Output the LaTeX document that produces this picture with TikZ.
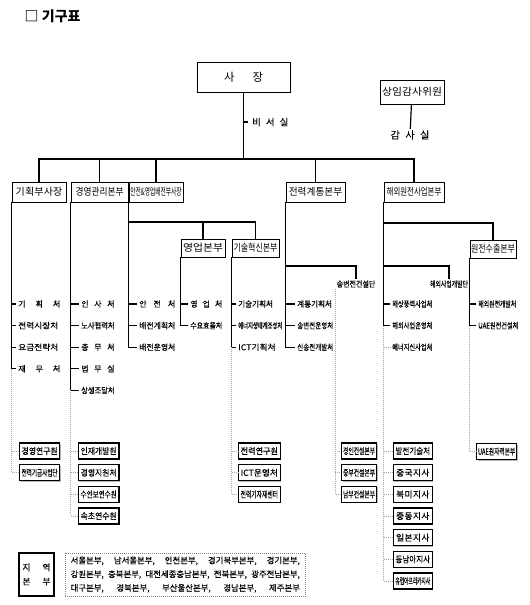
\documentclass[tikz,border=0pt]{standalone}
\usepackage{fontspec}
\setmainfont{Noto Sans CJK KR}
\newfontfamily\itemfont{Noto Sans CJK KR}[FakeBold=0.3]
\usepackage{graphicx}
\usetikzlibrary{positioning, shadows, calc}
\newcommand{\fitto}[2]{\resizebox{#1}{\height}{#2}}
\newcommand{\spr}[2]{\makebox[#1][s]{#2}}

\begin{document}
\begin{tikzpicture}[x=0.75pt, y=-0.75pt,
    line/.style={line width=0.9pt},
    dots/.style={gray!70, densely dotted, line width=0.5pt},
    boxshadow/.style={drop shadow={shadow xshift=0.8pt, shadow yshift=-0.8pt, fill=gray!55, opacity=1}},
    topbox/.style={draw, line width=0.6pt, fill=white, boxshadow, inner sep=0pt, minimum height=15pt, minimum width=#1, font=\fontsize{7.5}{8}\selectfont},
    unitbox/.style={draw, line width=0.9pt, fill=white, boxshadow, inner sep=0pt, minimum height=12pt, minimum width=#1, anchor=west, font=\itemfont\fontsize{6.5}{7}\selectfont},
    item/.style={anchor=west, inner xsep=1.5pt, inner ysep=1pt, font=\itemfont\fontsize{6}{7}\selectfont}]
    \useasboundingbox (0,0) rectangle (529,605);
    % 제목
    \node[anchor=west, font=\fontsize{10.5}{12}\selectfont\bfseries] (title) at (20,16) {□ 기구표};
    % 사장, 상임감사위원
    \node[draw, line width=0.6pt, minimum width=69.75pt, minimum height=22.5pt, font=\fontsize{8.5}{10}\selectfont] (ceo) at (243.5,77) {사\hspace{1.6em}장};
    \node[topbox=48pt, minimum height=18pt] (board) at (412,92) {\fitto{45pt}{상임감사위원}};
    \node[font=\itemfont\fontsize{7.5}{8}\selectfont, inner sep=1pt] (audit) at (410,135) {\spr{29pt}{감\hfil 사\hfil 실}};
    \draw[line] (board) -- (audit);
    \node[item, font=\itemfont\fontsize{7}{8}\selectfont, inner xsep=3pt] (sec) at (248,122) {\spr{27pt}{비\hfil 서\hfil 실}};
    \draw[line] (ceo.south |- sec.west) -- (sec.west);
    % 부사장, 본부
    \node[topbox=40.5pt] (vp1) at (39,192) {\spr{35pt}{기\hfil 획\hfil 부\hfil 사\hfil 장}};
    \node[topbox=42.75pt] (hq1) at (99.5,192) {\fitto{36pt}{경영관리본부}};
    \node[topbox=40.5pt] (vp2) at (156,192) {\fitto{38.5pt}{안전\&영업배전부사장}};
    \node[topbox=44.25pt] (hq5) at (315.5,192) {\fitto{40pt}{전력계통본부}};
    \node[topbox=45pt] (hq6) at (414,192) {\fitto{41pt}{해외원전사업본부}};
    \coordinate (bus) at (0,159);
    \draw[line] (ceo.south) -- (ceo.south |- bus);
    \draw[line] (vp1.north) |- (hq6.north |- bus) -- (hq6.north);
    \foreach \n in {hq1, vp2, hq5}
      \draw[line] (\n.north) -- (\n.north |- bus);
    \node[topbox=33pt, minimum height=13.5pt] (hq2) at (203,248) {\fitto{30pt}{영업본부}};
    \node[topbox=35.25pt, minimum height=13.5pt] (hq3) at (255.5,248) {\fitto{33pt}{기술혁신본부}};
    \node[topbox=34.5pt, minimum height=13.5pt] (hq7) at (493,249) {\fitto{33pt}{원전수출본부}};
    \coordinate (sub2) at (0,222);
    \coordinate (sub6) at (0,223);
    \coordinate (sub5) at (0,266);
    \draw[line] (vp2.south west |- sub2) -| (hq3.north);
    \draw[line] (hq2.north) -- (hq2.north |- sub2);
    \draw[line] (hq6.south west |- sub6) -| (hq7.north);
    \node[font=\itemfont\fontsize{6}{7}\selectfont, inner sep=1pt] (cons) at (356,284) {\fitto{29pt}{송변전건설단}};
    \node[font=\itemfont\fontsize{6}{7}\selectfont, inner sep=1pt] (devt) at (449,284) {\fitto{28.5pt}{해외사업개발단}};
    \draw[line] (hq5.south west |- sub5) -| (cons.north);
    \draw[line] (hq6.south west |- sub5) -| (devt.north);
    % 기획부사장
    \foreach \t [count=\i] in {{\spr{31.5pt}{기\hfil 획\hfil 처}}, {\fitto{30pt}{전력시장처}}, {\fitto{30pt}{요금전략처}}, {\spr{31.5pt}{재\hfil 무\hfil 처}}}
      \node[item] (a\i) at (16,282.4+21.6*\i) {\t};
    \foreach \i in {1,2,3}
      \draw[line] (vp1.south west |- a\i.west) -- (a\i.west);
    \draw[line] (vp1.south west) |- (a4.west);
    \foreach \t [count=\i] in {경영연구원, 전력기금사업단}
      \node[unitbox=30pt] (ab\i) at (19,429.4+21.65*\i) {\fitto{27pt}{\t}};
    \draw[dots] (vp1.south west |- a4.west) |- (ab2.west);
    \draw[dots] (vp1.south west |- ab1.west) -- (ab1.west);
    % 경영관리본부
    \foreach \t [count=\i] in {{\spr{25pt}{인\hfil 사\hfil 처}}, {\fitto{25pt}{노사협력처}}, {\spr{25pt}{총\hfil 무\hfil 처}}, {\spr{25pt}{법\hfil 무\hfil 실}}, {\fitto{25pt}{상생조달처}}}
      \node[item] (b\i) at (79,282.4+21.6*\i) {\t};
    \foreach \i in {1,...,4}
      \draw[line] (hq1.south west |- b\i.west) -- (b\i.west);
    \draw[line] (hq1.south west) |- (b5.west);
    \foreach \t [count=\i] in {인재개발원, 경영지원처, 수안보연수원, 속초연수원}
      \node[unitbox=30.5pt] (bb\i) at (77.7,429.4+21.65*\i) {\fitto{27pt}{\t}};
    \draw[dots] (hq1.south west |- b5.west) |- (bb4.west);
    \foreach \i in {1,2,3}
      \draw[dots] (hq1.south west |- bb\i.west) -- (bb\i.west);
    % 안전&영업배전부사장
    \foreach \t [count=\i] in {{\spr{27pt}{안\hfil 전\hfil 처}}, {\fitto{27pt}{배전계획처}}, {\fitto{27pt}{배전운영처}}}
      \node[item] (c\i) at (137,282.4+21.6*\i) {\t};
    \foreach \i in {1,2}
      \draw[line] (vp2.south west |- c\i.west) -- (c\i.west);
    \draw[line] (vp2.south west) |- (c3.west);
    % 영업본부
    \foreach \t [count=\i] in {{\spr{24pt}{영\hfil 업\hfil 처}}, {\fitto{24pt}{수요효율처}}}
      \node[item] (d\i) at (188,282.4+21.6*\i) {\t};
    \draw[line] (hq2.south west |- d1.west) -- (d1.west);
    \draw[line] (hq2.south west) |- (d2.west);
    % 기술혁신본부
    \foreach \t [count=\i] in {{\fitto{26pt}{기술기획처}}, {\fitto{33pt}{에너지생태계조성처}}, {\fitto{28pt}{ICT기획처}}}
      \node[item] (e\i) at (236,282.4+21.6*\i) {\t};
    \foreach \i in {1,2}
      \draw[line] (hq3.south west |- e\i.west) -- (e\i.west);
    \draw[line] (hq3.south west) |- (e3.west);
    \foreach \t [count=\i] in {전력연구원, ICT운영처, 전력기자재센터}
      \node[unitbox=31.5pt] (eb\i) at (237.7,429.4+21.65*\i) {\fitto{28pt}{\t}};
    \draw[dots] (hq3.south west |- e3.west) |- (eb3.west);
    \foreach \i in {1,2}
      \draw[dots] (hq3.south west |- eb\i.west) -- (eb\i.west);
    % 전력계통본부
    \foreach \t [count=\i] in {{\fitto{26pt}{계통기획처}}, {\fitto{27pt}{송변전운영처}}, {\fitto{27pt}{신송전개발처}}}
      \node[item] (f\i) at (295,282.4+21.6*\i) {\t};
    \foreach \i in {1,2}
      \draw[line] (hq5.south west |- f\i.west) -- (f\i.west);
    \draw[line] (hq5.south west) |- (f3.west);
    \foreach \t [count=\i] in {경인건설본부, 중부건설본부, 남부건설본부}
      \node[unitbox=26.25pt] (fb\i) at (341,429.4+21.65*\i) {\fitto{24pt}{\t}};
    \draw[dots] (cons.south west) |- (fb3.west);
    \foreach \i in {1,2}
      \draw[dots] (cons.south west |- fb\i.west) -- (fb\i.west);
    % 해외원전사업본부
    \foreach \t [count=\i] in {해상풍력사업처, 해외사업운영처, 에너지신사업처}
      \node[item] (g\i) at (390,282.4+21.6*\i) {\fitto{30pt}{\t}};
    \draw[line] (hq6.south west |- g1.west) -- (g1.west);
    \draw[line] (hq6.south west) |- (g2.west);
    \foreach \t [count=\i] in {{\fitto{26pt}{발전기술처}}, {\spr{25pt}{중\hfil 국\hfil 지\hfil 사}}, {\spr{25pt}{북\hfil 미\hfil 지\hfil 사}}, {\spr{25pt}{중\hfil 동\hfil 지\hfil 사}}, {\spr{25pt}{일\hfil 본\hfil 지\hfil 사}}, {\fitto{26pt}{동남아지사}}, {\fitto{26pt}{유럽아프리카지사}}}
      \node[unitbox=29.25pt] (gb\i) at (392.7,429.4+21.65*\i) {\t};
    \draw[dots] (hq6.south west |- g2.west) |- (gb7.west);
    \draw[dots] (hq6.south west |- g3.west) -- (g3.west);
    \foreach \i in {1,...,6}
      \draw[dots] (hq6.south west |- gb\i.west) -- (gb\i.west);
    % 원전수출본부
    \foreach \t [count=\i] in {{\fitto{28.5pt}{해외원전개발처}}, {\fitto{30pt}{UAE원전건설처}}}
      \node[item] (h\i) at (476,282.4+21.6*\i) {\t};
    \draw[line] (hq7.south west |- h1.west) -- (h1.west);
    \draw[line] (hq7.south west) |- (h2.west);
    \node[unitbox=30pt] (hb1) at (476,451.5) {\fitto{28pt}{UAE원자력본부}};
    \draw[dots] (hq7.south west |- h2.west) |- (hb1.west);
    % 지역본부
    \node[draw, line width=0.9pt, fill=white, boxshadow, minimum width=26.25pt, minimum height=32.25pt, inner sep=0pt, align=center, font=\itemfont\fontsize{6.5}{10.5}\selectfont] (region) at (36.5,574.4) {\spr{21pt}{지\hfil 역}\\ \spr{21pt}{본\hfil 부}};
    \node[draw=gray, densely dotted, line width=0.5pt, minimum width=180.5pt, minimum height=32pt, inner sep=0pt, align=left, font=\itemfont\fontsize{6.3}{10.3}\selectfont] (branches) at (185.3,574.6) {\spr{172pt}{서울본부, 남서울본부, 인천본부, 경기북부본부, 경기본부,}\\ \spr{172pt}{강원본부, 충북본부, 대전세종충남본부, 전북본부, 광주전남본부,}\\ \spr{172pt}{대구본부, 경북본부, 부산울산본부, 경남본부, 제주본부}};
  \end{tikzpicture}
\end{document}
